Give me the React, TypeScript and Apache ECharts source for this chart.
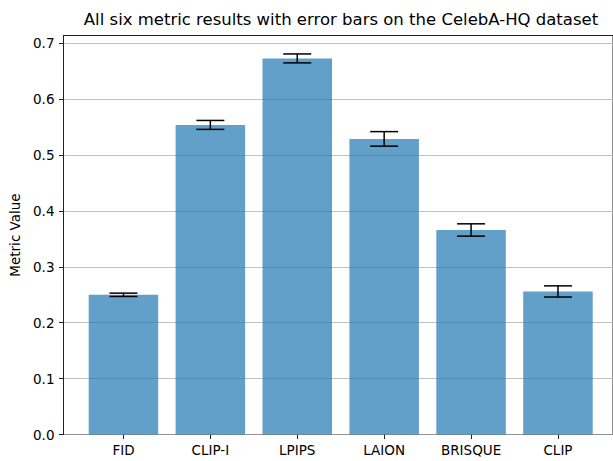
import React, { useEffect, useRef } from "react";
import * as echarts from "echarts";

const categories = ["FID", "CLIP-I", "LPIPS", "LAION", "BRISQUE", "CLIP"];
const values = [0.25, 0.554, 0.673, 0.529, 0.366, 0.256];
const errors = [0.003, 0.008, 0.008, 0.013, 0.011, 0.01];
const yTicks = [0, 0.1, 0.2, 0.3, 0.4, 0.5, 0.6, 0.7];

const FONT = "DejaVu Sans";

export default function App() {
  const ref = useRef<HTMLDivElement>(null);
  useEffect(() => {
    document.body.style.margin = "0";
    const chart = echarts.init(ref.current!, undefined, { renderer: "svg" });
    const left = 63.5;
    const top = 35.5;
    const h = 399;
    const band = 86.9;
    const option: any = {
      animation: false,
      textStyle: { fontFamily: FONT },
      graphic: [
        {
          type: "text",
          x: 341,
          y: 19,
          style: {
            text: "All six metric results with error bars on the CelebA-HQ dataset",
            fontFamily: FONT,
            fontSize: 16.5,
            fill: "#000",
            textAlign: "center",
            textVerticalAlign: "middle",
          },
        },
      ],
      grid: [
        { left, top, width: band * 6 + band * 0.38, height: h, show: true, borderColor: "#222", borderWidth: 1, backgroundColor: "transparent" },
        { left: left + band * 0.19, top, width: band * 6, height: h },
      ],
      xAxis: [
        { type: "value", gridIndex: 0, min: 0, max: 1, show: false },
        {
          type: "category",
          gridIndex: 1,
          data: categories,
          axisLine: { show: false },
          axisTick: { show: true, alignWithLabel: true, length: 4.5, lineStyle: { color: "#222", width: 1 } },
          axisLabel: { fontFamily: FONT, fontSize: 13.5, color: "#000", margin: 8 },
          splitLine: { show: false },
        },
      ],
      yAxis: [
        {
          type: "value",
          gridIndex: 0,
          min: 0,
          max: 0.714,
          interval: 0.1,
          name: "Metric Value",
          nameLocation: "middle",
          nameGap: 40,
          nameTextStyle: { fontFamily: FONT, fontSize: 13.5, color: "#000" },
          axisLine: { show: true, lineStyle: { color: "#222", width: 1 } },
          axisTick: { show: true, length: 4.5, lineStyle: { color: "#222", width: 1 }, customValues: yTicks },
          axisLabel: {
            fontFamily: FONT,
            fontSize: 13.5,
            color: "#000",
            margin: 9,
            customValues: yTicks,
            formatter: (v: number) => v.toFixed(1),
          },
          splitLine: { show: true, lineStyle: { color: "#b0b0b0", width: 0.8 } },
        },
        { type: "value", gridIndex: 1, min: 0, max: 0.714, show: false, splitLine: { show: false } },
      ],
      series: [
        {
          type: "bar",
          xAxisIndex: 1,
          yAxisIndex: 1,
          data: values,
          barWidth: band * 0.8,
          itemStyle: { color: "rgba(31,119,180,0.7)" },
          z: 2,
        },
        {
          type: "custom",
          xAxisIndex: 1,
          yAxisIndex: 1,
          z: 5,
          data: values.map((v, i) => [i, v - errors[i], v + errors[i]]),
          renderItem: (params: any, api: any) => {
            const x = api.value(0);
            const lo = api.coord([x, api.value(1)]);
            const hi = api.coord([x, api.value(2)]);
            const cap = 14;
            const style = { stroke: "#000", lineWidth: 1.5 };
            return {
              type: "group",
              children: [
                { type: "line", shape: { x1: lo[0], y1: lo[1], x2: hi[0], y2: hi[1] }, style },
                { type: "line", shape: { x1: lo[0] - cap, y1: lo[1], x2: lo[0] + cap, y2: lo[1] }, style },
                { type: "line", shape: { x1: hi[0] - cap, y1: hi[1], x2: hi[0] + cap, y2: hi[1] }, style },
              ],
            };
          },
        },
      ],
    };
    chart.setOption(option);
    return () => chart.dispose();
  }, []);
  return <div ref={ref} style={{ width: 613, height: 461 }} />;
}
